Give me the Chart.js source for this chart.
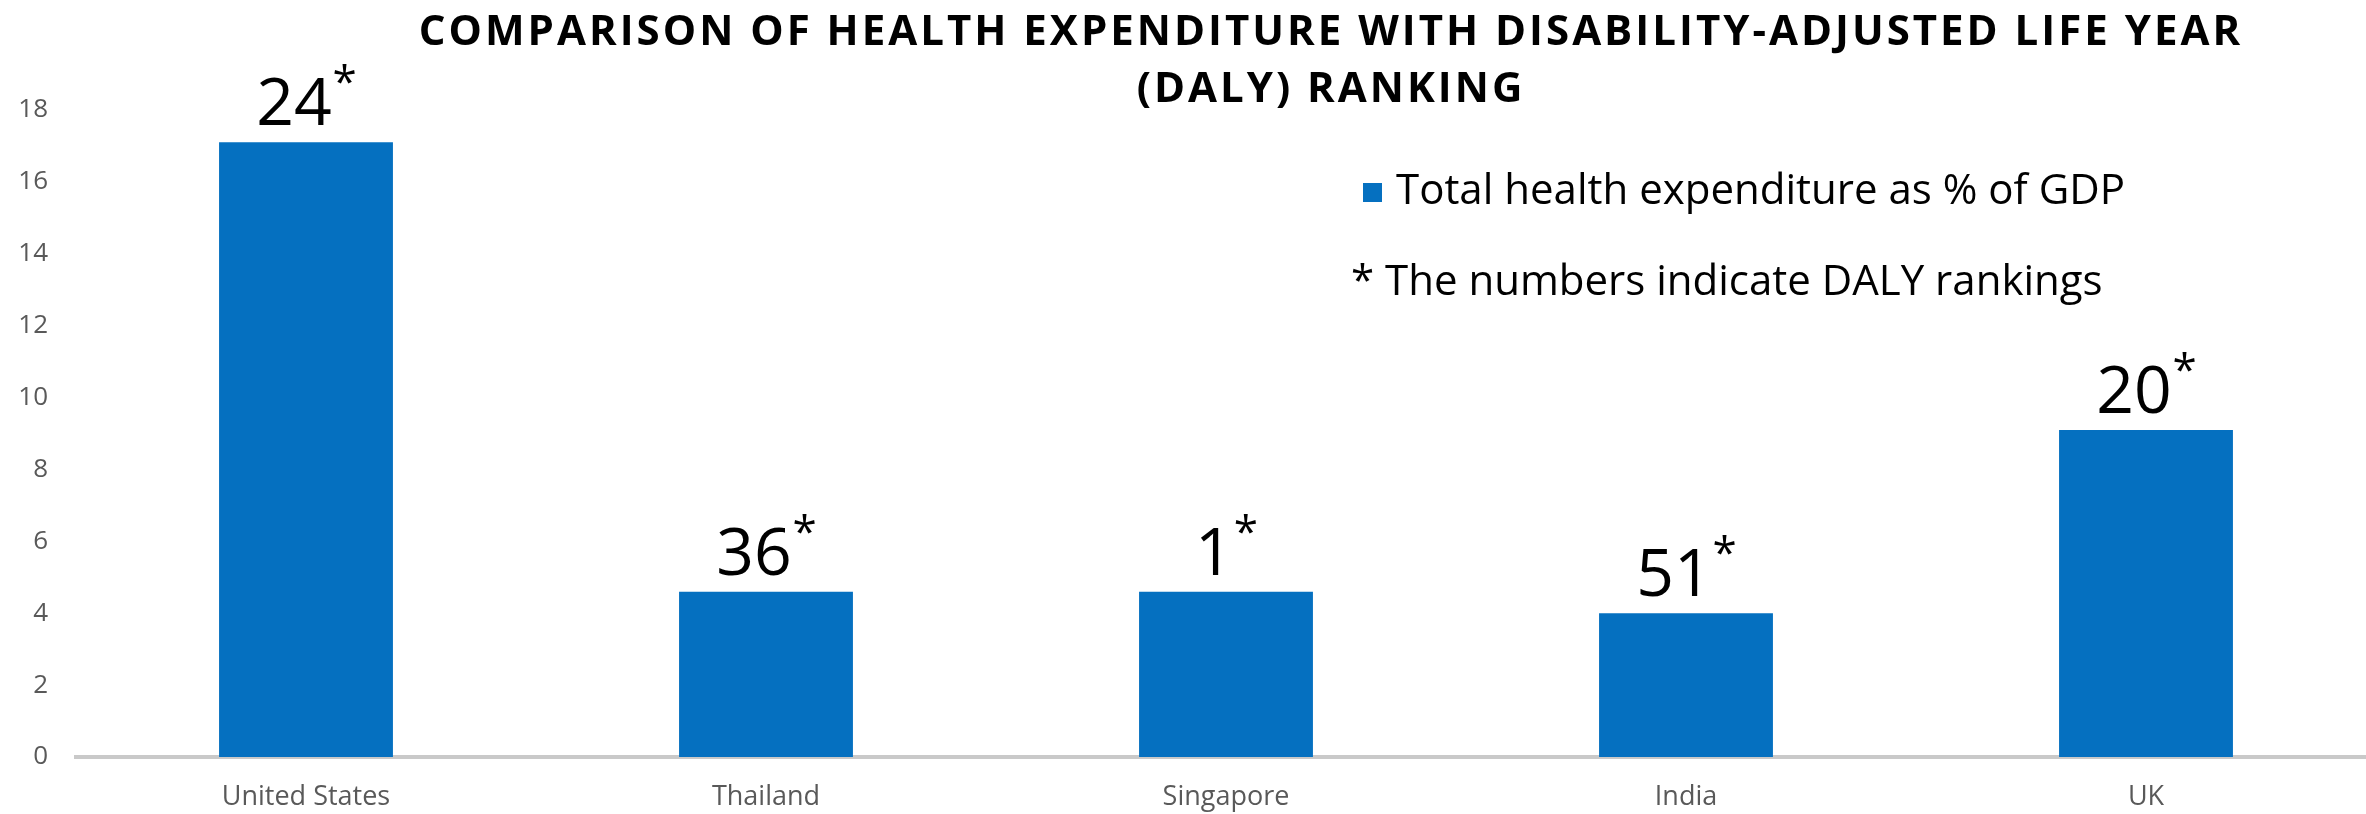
<!DOCTYPE html>
<html>
<head>
<meta charset="utf-8">
<script src="https://cdn.jsdelivr.net/npm/chart.js@4/dist/chart.umd.min.js"></script>
<style>
  html, body { margin: 0; padding: 0; background: #fff; overflow: hidden; }
  canvas { display: block; }
</style>
</head>
<body>
<canvas id="chartDaly" width="2376" height="814" style="width:2376px;height:814px"></canvas>
<script>
var pays = ['United States', 'Thailand', 'Singapore', 'India', 'UK'];
var depenses = [17.1, 4.6, 4.6, 4.0, 9.1];
var rangsDaly = [24, 36, 1, 51, 20];
var titre = ['COMPARISON OF HEALTH EXPENDITURE WITH DISABILITY-ADJUSTED LIFE YEAR', '(DALY) RANKING'];
var note = '* The numbers indicate DALY rankings';

var police = '"Open Sans", "DejaVu Sans", sans-serif';
var bleu = '#0570C0';

// Titre en deux lignes, espacé
var pluginTitre = {
  id: 'titre',
  afterDraw: function(chart) {
    var ctx = chart.ctx;
    ctx.save();
    ctx.fillStyle = '#000';
    ctx.font = 'bold 42px ' + police;
    ctx.letterSpacing = '3px';
    ctx.textAlign = 'center';
    ctx.textBaseline = 'middle';
    ctx.fillText(titre[0], 1331, 33);
    ctx.fillText(titre[1], 1331, 90);
    ctx.restore();
  }
};

// Légende + note sur les classements
var pluginLegende = {
  id: 'legende',
  afterDraw: function(chart) {
    var ctx = chart.ctx;
    var ds = chart.data.datasets[0];
    ctx.save();
    ctx.fillStyle = ds.backgroundColor;
    ctx.fillRect(1363, 183, 19, 19);
    ctx.fillStyle = '#000';
    ctx.font = '42px ' + police;
    ctx.textAlign = 'left';
    ctx.textBaseline = 'middle';
    ctx.fillText(ds.label, 1396, 192);
    ctx.fillText(note, 1351, 283);
    ctx.restore();
  }
};

// Rang DALY au-dessus de chaque barre, avec astérisque en exposant
var pluginRangs = {
  id: 'rangs',
  afterDatasetsDraw: function(chart) {
    var ctx = chart.ctx;
    var meta = chart.getDatasetMeta(0);
    ctx.save();
    ctx.fillStyle = '#000';
    ctx.textBaseline = 'alphabetic';
    ctx.textAlign = 'left';
    meta.data.forEach(function(bar, i) {
      var txt = String(rangsDaly[i]);
      ctx.font = '66px ' + police;
      var wNum = ctx.measureText(txt).width;
      ctx.font = '44px ' + police;
      var wEt = ctx.measureText('*').width;
      var x0 = bar.x - (wNum + wEt) / 2;
      var base = bar.y - 17;
      ctx.font = '66px ' + police;
      ctx.fillText(txt, x0, base);
      ctx.font = '44px ' + police;
      ctx.fillText('*', x0 + wNum + 1, base - 28);
    });
    ctx.restore();
  }
};

new Chart(document.getElementById('chartDaly'), {
  type: 'bar',
  data: {
    labels: pays,
    datasets: [{
      label: 'Total health expenditure as % of GDP',
      data: depenses,
      backgroundColor: bleu,
      borderWidth: 0,
      barPercentage: 0.378,
      categoryPercentage: 1
    }]
  },
  options: {
    responsive: false,
    animation: false,
    layout: { padding: { top: 110, left: 0, right: 0, bottom: 0 } },
    plugins: {
      legend: { display: false },
      title: { display: false },
      tooltip: { enabled: false }
    },
    scales: {
      x: {
        grid: { display: false, drawTicks: false },
        border: { display: true, color: '#C9C9C9', width: 4 },
        ticks: {
          color: '#595959',
          font: { family: police, size: 27 },
          padding: 24,
          maxRotation: 0
        },
        afterFit: function(scale) { scale.height = 57; }
      },
      y: {
        min: 0,
        max: 18,
        grid: { display: false, drawTicks: false },
        border: { display: false },
        ticks: {
          stepSize: 2,
          color: '#595959',
          font: { family: police, size: 26 },
          padding: 28
        },
        afterFit: function(scale) { scale.width = 76; }
      }
    }
  },
  plugins: [pluginTitre, pluginLegende, pluginRangs]
});
</script>
</body>
</html>
